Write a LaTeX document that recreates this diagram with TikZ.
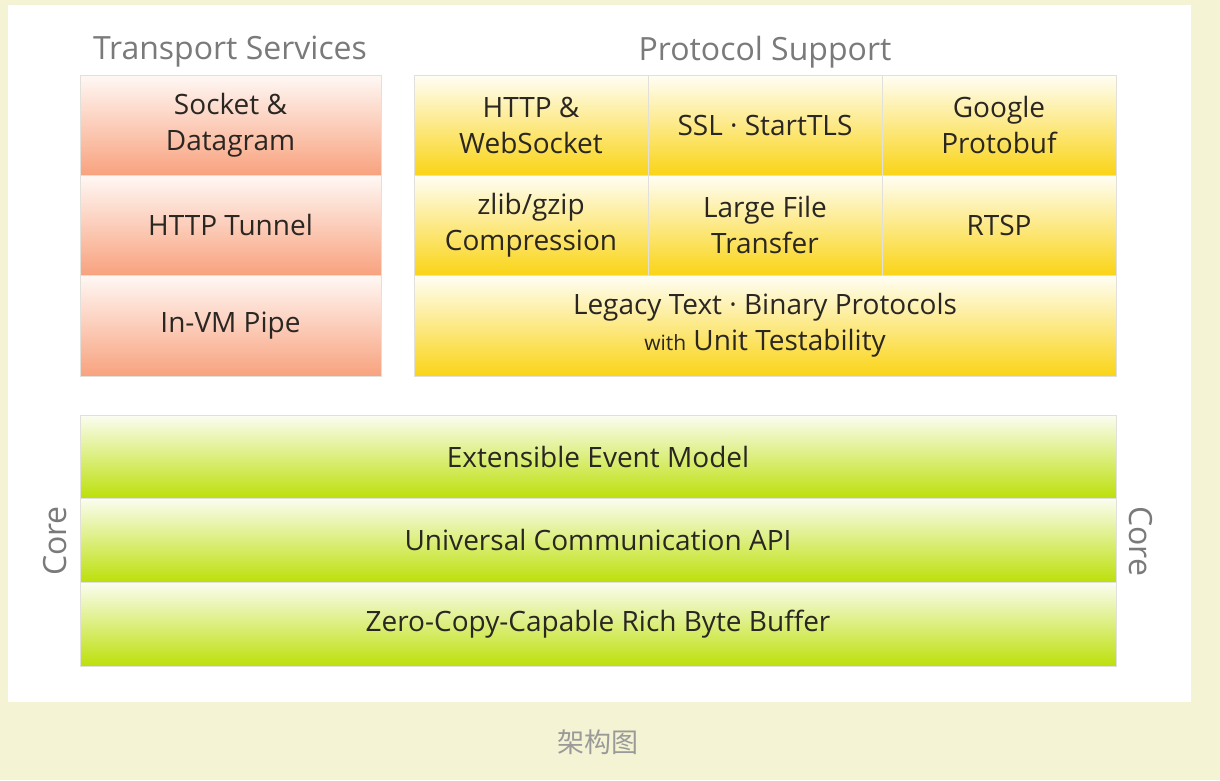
\documentclass[tikz,border=0pt]{standalone}
\usepackage{fontspec}
\setmainfont{Open Sans}
\newfontfamily\cjk{Noto Sans CJK SC}
\usepackage{xcolor}
\usetikzlibrary{positioning}
\definecolor{paper}{HTML}{F4F3D3}
\definecolor{ink}{HTML}{2A2622}
\definecolor{inkgray}{HTML}{7A7A7A}
\definecolor{capgray}{HTML}{9A9A9A}
\definecolor{cellline}{HTML}{E2E0DA}
\definecolor{saltop}{HTML}{FFF8F5}
\definecolor{salmid}{HTML}{FCCDB8}
\definecolor{salbot}{HTML}{F8A27E}
\definecolor{yeltop}{HTML}{FFFEF5}
\definecolor{yelmid}{HTML}{FDE98E}
\definecolor{yelbot}{HTML}{FAD416}
\definecolor{grntop}{HTML}{FBFDF2}
\definecolor{grnmid}{HTML}{DBED86}
\definecolor{grnbot}{HTML}{BCE00A}
\newcommand{\cellfont}{\fontsize{28}{36}\selectfont}
\newcommand{\headfont}{\fontsize{32}{36}\selectfont}
\tikzset{
  cell/.style={draw=cellline,line width=0.8pt,inner sep=0pt,
               align=center,text=ink,font=\cellfont},
  tsvcell/.style={cell,minimum width=301,minimum height=100,
                  top color=saltop,middle color=salmid,bottom color=salbot},
  protocell/.style={cell,minimum width=234,minimum height=100,
                    top color=yeltop,middle color=yelmid,bottom color=yelbot},
  corecell/.style={cell,minimum width=1036,minimum height=84,
                   top color=grntop,middle color=grnmid,bottom color=grnbot},
  head/.style={text=inkgray,font=\headfont},
  coretag/.style={text=inkgray,font=\headfont}
}
\begin{document}
\begin{tikzpicture}[x=1pt,y=-1pt]
    \useasboundingbox (0,0) rectangle (1220,780);
    \fill[paper] (0,0) rectangle (1220,780);
    \fill[white] (8,5) rectangle (1191,702);
    % headings
    \node[head] (tsvhead) at (230,52) {Transport Services};
    \node[head] (protohead) at (765,52) {Protocol Support};
    % transport services
    \node[tsvcell] (socket) at (230.5,125) {Socket \&\\Datagram};
    \node[tsvcell] (tunnel) at (230.5,225) {HTTP Tunnel};
    \node[tsvcell,minimum height=101] (pipe) at (230.5,325.5) {In-VM Pipe};
    % protocol support
    \node[protocell] (http) at (531,125) {HTTP \&\\WebSocket};
    \node[protocell] (ssl) at (765,125) {SSL · StartTLS};
    \node[protocell] (protobuf) at (999,125) {Google\\Protobuf};
    \node[protocell] (zlib) at (531,225) {zlib/gzip\\Compression};
    \node[protocell] (largefile) at (765,225) {Large File\\Transfer};
    \node[protocell] (rtsp) at (999,225) {RTSP};
    \node[protocell,minimum width=702,minimum height=101] (legacy) at (765,325.5)
      {Legacy Text · Binary Protocols\\{\fontsize{21}{24}\selectfont with} Unit Testability};
    % core
    \node[corecell,minimum height=83] (event) at (598,456.5) {Extensible Event Model};
    \node[corecell] (api) at (598,540) {Universal Communication API};
    \node[corecell] (buffer) at (598,624) {Zero-Copy-Capable Rich Byte Buffer};
    \node[coretag,rotate=90] (coreleft) at (55,541) {Core};
    \node[coretag,rotate=-90] (coreright) at (1141,541) {Core};
    % caption
    \node[text=capgray,font=\cjk\fontsize{27}{30}\selectfont] (caption) at (598,742) {架构图};
  \end{tikzpicture}
\end{document}
